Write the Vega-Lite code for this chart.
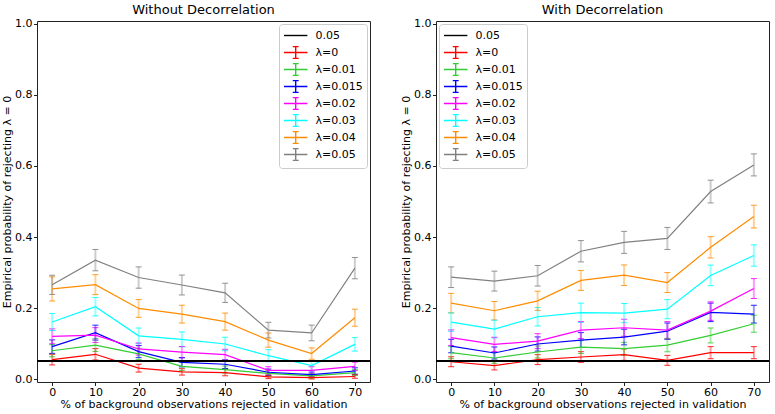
{
  "$schema": "https://vega.github.io/schema/vega-lite/v6.json",
  "padding": {"left": 1, "top": 3, "right": 5, "bottom": 0},
  "background": "white",
  "config": {
    "font": "DejaVu Sans",
    "view": {"stroke": "#222", "strokeWidth": 1},
    "axis": {"domain": false, "grid": false, "tickColor": "#222", "tickSize": 3.5, "labelFontSize": 11, "titleFontSize": 11, "labelColor": "black", "titleColor": "black", "titleFontWeight": "normal", "labelPadding": 1.5, "titlePadding": 2},
    "axisX": {"titlePadding": 1.5, "labelPadding": 0.5},
    "title": {"fontSize": 13, "fontWeight": "normal", "color": "black", "offset": 1},
    "legend": {"title": null, "labelFontSize": 11, "labelColor": "black", "strokeColor": "#cccccc", "fillColor": "white", "cornerRadius": 3, "padding": 4, "offset": 3, "symbolSize": 169, "symbolStrokeWidth": 1.4, "labelOffset": 17.5, "rowPadding": -2.4}
  },
  "datasets": {
    "left": [
      {"x":0,"s":"λ=0","p":0.055,"e":0.015},{"x":10,"s":"λ=0","p":0.070,"e":0.016},{"x":20,"s":"λ=0","p":0.031,"e":0.011},{"x":30,"s":"λ=0","p":0.0205,"e":0.009},{"x":40,"s":"λ=0","p":0.0185,"e":0.009},{"x":50,"s":"λ=0","p":0.0065,"e":0.005},{"x":60,"s":"λ=0","p":0.0045,"e":0.004},{"x":70,"s":"λ=0","p":0.0075,"e":0.005},
      {"x":0,"s":"λ=0.01","p":0.080,"e":0.017},{"x":10,"s":"λ=0.01","p":0.096,"e":0.018},{"x":20,"s":"λ=0.01","p":0.071,"e":0.016},{"x":30,"s":"λ=0.01","p":0.036,"e":0.012},{"x":40,"s":"λ=0.01","p":0.027,"e":0.010},{"x":50,"s":"λ=0.01","p":0.016,"e":0.008},{"x":60,"s":"λ=0.01","p":0.009,"e":0.006},{"x":70,"s":"λ=0.01","p":0.0185,"e":0.008},
      {"x":0,"s":"λ=0.015","p":0.0915,"e":0.019},{"x":10,"s":"λ=0.015","p":0.131,"e":0.021},{"x":20,"s":"λ=0.015","p":0.0775,"e":0.017},{"x":30,"s":"λ=0.015","p":0.0475,"e":0.013},{"x":40,"s":"λ=0.015","p":0.042,"e":0.012},{"x":50,"s":"λ=0.015","p":0.0195,"e":0.009},{"x":60,"s":"λ=0.015","p":0.013,"e":0.007},{"x":70,"s":"λ=0.015","p":0.023,"e":0.009},
      {"x":0,"s":"λ=0.02","p":0.1205,"e":0.021},{"x":10,"s":"λ=0.02","p":0.124,"e":0.021},{"x":20,"s":"λ=0.02","p":0.085,"e":0.017},{"x":30,"s":"λ=0.02","p":0.076,"e":0.016},{"x":40,"s":"λ=0.02","p":0.069,"e":0.015},{"x":50,"s":"λ=0.02","p":0.025,"e":0.010},{"x":60,"s":"λ=0.02","p":0.025,"e":0.010},{"x":70,"s":"λ=0.02","p":0.036,"e":0.012},
      {"x":0,"s":"λ=0.03","p":0.161,"e":0.024},{"x":10,"s":"λ=0.03","p":0.204,"e":0.026},{"x":20,"s":"λ=0.03","p":0.122,"e":0.022},{"x":30,"s":"λ=0.03","p":0.112,"e":0.021},{"x":40,"s":"λ=0.03","p":0.099,"e":0.019},{"x":50,"s":"λ=0.03","p":0.066,"e":0.017},{"x":60,"s":"λ=0.03","p":0.038,"e":0.014},{"x":70,"s":"λ=0.03","p":0.098,"e":0.019},
      {"x":0,"s":"λ=0.04","p":0.254,"e":0.034},{"x":10,"s":"λ=0.04","p":0.266,"e":0.028},{"x":20,"s":"λ=0.04","p":0.199,"e":0.025},{"x":30,"s":"λ=0.04","p":0.183,"e":0.025},{"x":40,"s":"λ=0.04","p":0.162,"e":0.024},{"x":50,"s":"λ=0.04","p":0.110,"e":0.020},{"x":60,"s":"λ=0.04","p":0.072,"e":0.016},{"x":70,"s":"λ=0.04","p":0.173,"e":0.024},
      {"x":0,"s":"λ=0.05","p":0.2655,"e":0.027},{"x":10,"s":"λ=0.05","p":0.335,"e":0.030},{"x":20,"s":"λ=0.05","p":0.286,"e":0.030},{"x":30,"s":"λ=0.05","p":0.265,"e":0.028},{"x":40,"s":"λ=0.05","p":0.243,"e":0.027},{"x":50,"s":"λ=0.05","p":0.138,"e":0.022},{"x":60,"s":"λ=0.05","p":0.130,"e":0.022},{"x":70,"s":"λ=0.05","p":0.3125,"e":0.030}
    ],
    "right": [
      {"x":0,"s":"λ=0","p":0.049,"e":0.014},{"x":10,"s":"λ=0","p":0.038,"e":0.012},{"x":20,"s":"λ=0","p":0.055,"e":0.014},{"x":30,"s":"λ=0","p":0.0624,"e":0.015},{"x":40,"s":"λ=0","p":0.069,"e":0.016},{"x":50,"s":"λ=0","p":0.053,"e":0.014},{"x":60,"s":"λ=0","p":0.0745,"e":0.017},{"x":70,"s":"λ=0","p":0.0745,"e":0.017},
      {"x":0,"s":"λ=0.01","p":0.0745,"e":0.017},{"x":10,"s":"λ=0.01","p":0.0596,"e":0.015},{"x":20,"s":"λ=0.01","p":0.0764,"e":0.017},{"x":30,"s":"λ=0.01","p":0.0904,"e":0.018},{"x":40,"s":"λ=0.01","p":0.0857,"e":0.018},{"x":50,"s":"λ=0.01","p":0.096,"e":0.019},{"x":60,"s":"λ=0.01","p":0.123,"e":0.021},{"x":70,"s":"λ=0.01","p":0.156,"e":0.024},
      {"x":0,"s":"λ=0.015","p":0.0932,"e":0.019},{"x":10,"s":"λ=0.015","p":0.0736,"e":0.017},{"x":20,"s":"λ=0.015","p":0.0989,"e":0.020},{"x":30,"s":"λ=0.015","p":0.110,"e":0.021},{"x":40,"s":"λ=0.015","p":0.1185,"e":0.022},{"x":50,"s":"λ=0.015","p":0.135,"e":0.023},{"x":60,"s":"λ=0.015","p":0.188,"e":0.026},{"x":70,"s":"λ=0.015","p":0.183,"e":0.025},
      {"x":0,"s":"λ=0.02","p":0.1167,"e":0.022},{"x":10,"s":"λ=0.02","p":0.098,"e":0.020},{"x":20,"s":"λ=0.02","p":0.107,"e":0.021},{"x":30,"s":"λ=0.02","p":0.138,"e":0.024},{"x":40,"s":"λ=0.02","p":0.1447,"e":0.024},{"x":50,"s":"λ=0.02","p":0.138,"e":0.024},{"x":60,"s":"λ=0.02","p":0.1915,"e":0.026},{"x":70,"s":"λ=0.02","p":0.255,"e":0.028},
      {"x":0,"s":"λ=0.03","p":0.1607,"e":0.026},{"x":10,"s":"λ=0.03","p":0.141,"e":0.025},{"x":20,"s":"λ=0.03","p":0.1757,"e":0.026},{"x":30,"s":"λ=0.03","p":0.187,"e":0.027},{"x":40,"s":"λ=0.03","p":0.186,"e":0.027},{"x":50,"s":"λ=0.03","p":0.197,"e":0.027},{"x":60,"s":"λ=0.03","p":0.292,"e":0.029},{"x":70,"s":"λ=0.03","p":0.348,"e":0.030},
      {"x":0,"s":"λ=0.04","p":0.214,"e":0.0275},{"x":10,"s":"λ=0.04","p":0.1925,"e":0.026},{"x":20,"s":"λ=0.04","p":0.2205,"e":0.027},{"x":30,"s":"λ=0.04","p":0.278,"e":0.028},{"x":40,"s":"λ=0.04","p":0.2925,"e":0.029},{"x":50,"s":"λ=0.04","p":0.272,"e":0.028},{"x":60,"s":"λ=0.04","p":0.371,"e":0.030},{"x":70,"s":"λ=0.04","p":0.4575,"e":0.032},
      {"x":0,"s":"λ=0.05","p":0.287,"e":0.029},{"x":10,"s":"λ=0.05","p":0.276,"e":0.028},{"x":20,"s":"λ=0.05","p":0.291,"e":0.029},{"x":30,"s":"λ=0.05","p":0.360,"e":0.030},{"x":40,"s":"λ=0.05","p":0.385,"e":0.031},{"x":50,"s":"λ=0.05","p":0.396,"e":0.031},{"x":60,"s":"λ=0.05","p":0.528,"e":0.032},{"x":70,"s":"λ=0.05","p":0.603,"e":0.031}
    ]
  },
  "hconcat": [
    {
      "title": "Without Decorrelation",
      "width": 333, "height": 361,
      "data": {"name": "left"},
      "layer": [
        {"mark": {"type": "errorbar", "ticks": {"size": 6, "thickness": 1, "opacity": 0.85}, "rule": {"strokeWidth": 2, "opacity": 0.4}},
         "encoding": {"x": {"field": "x", "type": "quantitative", "title": "% of background observations rejected in validation"}, "y": {"field": "p", "type": "quantitative", "title": "Empirical probability of rejecting λ = 0"}, "yError": {"field": "e"}, "color": {"field": "s", "type": "nominal"}}},
        {"mark": {"type": "line", "strokeWidth": 1.2},
         "encoding": {
           "x": {"field": "x", "type": "quantitative", "scale": {"domain": [-3.5, 73.5], "nice": false}, "axis": {"values": [0,10,20,30,40,50,60,70]}, "title": "% of background observations rejected in validation"},
           "y": {"field": "p", "type": "quantitative", "scale": {"domain": [-0.008, 1.008], "nice": false}, "axis": {"values": [0,0.2,0.4,0.6,0.8,1.0], "format": ".1f"}, "title": "Empirical probability of rejecting λ = 0"},
           "color": {"field": "s", "type": "nominal", "scale": {"domain": ["0.05","λ=0","λ=0.01","λ=0.015","λ=0.02","λ=0.03","λ=0.04","λ=0.05"], "range": ["black","red","limegreen","blue","magenta","cyan","darkorange","gray"]},
             "legend": {"orient": "top-right", "encode": {"symbols": {"update": {"shape": {"signal": "datum.value === '0.05' ? 'M-1,0H2.6M0.8,-0.9L0.8,-0.9M0.8,0.9L0.8,0.9' : 'M-1,0H2.6M0.8,-0.9V0.9M0.35,-0.9H1.25M0.35,0.9H1.25'"}}}}}}
         }},
        {"mark": {"type": "rule", "strokeWidth": 1.3}, "encoding": {"y": {"datum": 0.05}, "color": {"datum": "0.05"}}}
      ]
    },
    {
      "title": "With Decorrelation",
      "width": 333, "height": 361,
      "data": {"name": "right"},
      "layer": [
        {"mark": {"type": "errorbar", "ticks": {"size": 6, "thickness": 1, "opacity": 0.85}, "rule": {"strokeWidth": 2, "opacity": 0.4}},
         "encoding": {"x": {"field": "x", "type": "quantitative", "title": "% of background observations rejected in validation"}, "y": {"field": "p", "type": "quantitative", "title": "Empirical probability of rejecting λ = 0"}, "yError": {"field": "e"}, "color": {"field": "s", "type": "nominal"}}},
        {"mark": {"type": "line", "strokeWidth": 1.2},
         "encoding": {
           "x": {"field": "x", "type": "quantitative", "scale": {"domain": [-3.5, 73.5], "nice": false}, "axis": {"values": [0,10,20,30,40,50,60,70]}, "title": "% of background observations rejected in validation"},
           "y": {"field": "p", "type": "quantitative", "scale": {"domain": [-0.008, 1.008], "nice": false}, "axis": {"values": [0,0.2,0.4,0.6,0.8,1.0], "format": ".1f"}, "title": "Empirical probability of rejecting λ = 0"},
           "color": {"field": "s", "type": "nominal", "scale": {"domain": ["0.05","λ=0","λ=0.01","λ=0.015","λ=0.02","λ=0.03","λ=0.04","λ=0.05"], "range": ["black","red","limegreen","blue","magenta","cyan","darkorange","gray"]},
             "legend": {"orient": "top-left", "encode": {"symbols": {"update": {"shape": {"signal": "datum.value === '0.05' ? 'M-1,0H2.6M0.8,-0.9L0.8,-0.9M0.8,0.9L0.8,0.9' : 'M-1,0H2.6M0.8,-0.9V0.9M0.35,-0.9H1.25M0.35,0.9H1.25'"}}}}}}
         }},
        {"mark": {"type": "rule", "strokeWidth": 1.3}, "encoding": {"y": {"datum": 0.05}, "color": {"datum": "0.05"}}}
      ]
    }
  ],
  "spacing": 66,
  "bounds": "flush",
  "resolve": {"scale": {"color": "independent"}, "legend": {"color": "independent"}}
}
